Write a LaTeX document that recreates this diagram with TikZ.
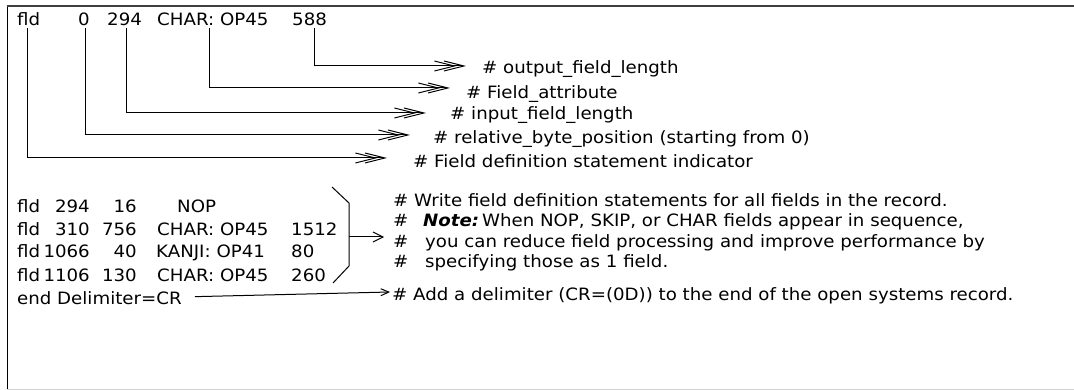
\documentclass[tikz,border=0pt]{standalone}
\usepackage{fontspec}
\setmainfont[FakeStretch=1.07]{DejaVu Sans}
\usetikzlibrary{arrows.meta}
\begin{document}
\begin{tikzpicture}[x=1pt,y=-1pt,
  font=\fontsize{17}{20}\selectfont,
  txt/.style={inner sep=0pt, anchor=base west},
  rtxt/.style={inner sep=0pt, anchor=base east},
  conn/.style={line width=1pt, -{Straight Barb[length=20pt,width=10pt,line width=1pt,sep=-13pt]Straight Barb[length=20pt,width=10pt,line width=1pt]}},
  small/.style={line width=1pt, -{Straight Barb[length=10pt,width=10pt,line width=1pt]}},
  line/.style={line width=1pt}]
\useasboundingbox (0,0) rectangle (1074,390);
% frame
\draw[line width=1.8pt, black] (7.5,5.5) -- (7.5,389);
\draw[line width=1.5pt, black!75] (7,6) -- (1074,6);
\draw[line width=1pt, black!18] (7,389) -- (1074,389);

% top statement
\node[txt] (tf)   at (17,26)  {fld};
\node[txt] (tp)   at (78,26)  {0};
\node[txt] (tl)   at (107,26) {294};
\node[txt] (ta)   at (157,26) {CHAR: OP45};
\node[txt] (to)   at (292,26) {588};

% labels
\node[txt] (l1) at (482,74)  {\# output\_field\_length};
\node[txt] (l2) at (466,99)  {\# Field\_attribute};
\node[txt] (l3) at (450,120) {\# input\_field\_length};
\node[txt] (l4) at (433,144) {\# relative\_byte\_position (starting from 0)};
\node[txt] (l5) at (413,168) {\# Field definition statement indicator};

\draw[conn] ([xshift=22pt,yshift=-2pt]to.south west) |- ([xshift=-16pt,yshift=8pt]l1.base west);
\draw[conn] ([xshift=52pt,yshift=-2pt]ta.south west) |- ([xshift=-16pt,yshift=11pt]l2.base west);
\draw[conn] ([xshift=19pt,yshift=-2pt]tl.south west) |- ([xshift=-24pt,yshift=7pt]l3.base west);
\draw[conn] ([xshift=7pt,yshift=-2pt]tp.south west)  |- ([xshift=-23pt,yshift=9pt]l4.base west);
\draw[conn] ([xshift=10pt,yshift=-2pt]tf.south west) |- ([xshift=-26pt,yshift=10pt]l5.base west);

% field definition rows
\node[txt]  (r1a) at (17,213) {fld};
\node[rtxt] (r1b) at (90,213) {294};
\node[rtxt] (r1c) at (137,213) {16};
\node[txt]  (r1d) at (177,213) {NOP};

\node[txt]  (r2a) at (17,236) {fld};
\node[rtxt] (r2b) at (90,236) {310};
\node[rtxt] (r2c) at (137,236) {756};
\node[txt]  (r2d) at (157,236) {CHAR: OP45};
\node[txt]  (r2e) at (291,236) {1512};

\node[txt]  (r3a) at (17,258) {fld};
\node[rtxt] (r3b) at (90,258) {1066};
\node[rtxt] (r3c) at (137,258) {40};
\node[txt]  (r3d) at (156,258) {KANJI: OP41};
\node[txt]  (r3e) at (291,258) {80};

\node[txt]  (r4a) at (17,281) {fld};
\node[rtxt] (r4b) at (90,281) {1106};
\node[rtxt] (r4c) at (137,281) {130};
\node[txt]  (r4d) at (157,281) {CHAR: OP45};
\node[txt]  (r4e) at (291,281) {260};

\node[txt]  (endd) at (17,305) {end Delimiter=CR};

% notes
\node[txt] (n1) at (393,207) {\# Write field definition statements for all fields in the record.};
\node[txt] (n2) at (393,227) {\makebox[30pt][l]{\#}\textbf{\textit{Note:}}\,When NOP, SKIP, or CHAR fields appear in sequence,};
\node[txt] (n3) at (393,248) {\makebox[32pt][l]{\#}you can reduce field processing and improve performance by};
\node[txt] (n4) at (393,268) {\makebox[32pt][l]{\#}specifying those as 1 field.};
\node[txt] (n5) at (392,300) {\# Add a delimiter (CR=(0D)) to the end of the open systems record.};

% brace
\draw[line] (332,187) -- (349,203) -- (349,266) -- (333,283);
\coordinate (bm) at (349,237);
\draw[small, shorten >=9pt] (bm) -- (bm -| n3.west);

% end arrow
\draw[line width=1pt, -{Straight Barb[length=8pt,width=7pt,line width=1pt]}]
  ([xshift=13pt,yshift=2pt]endd.east) -- ([xshift=-2pt,yshift=8pt]n5.base west);
\end{tikzpicture}
\end{document}
